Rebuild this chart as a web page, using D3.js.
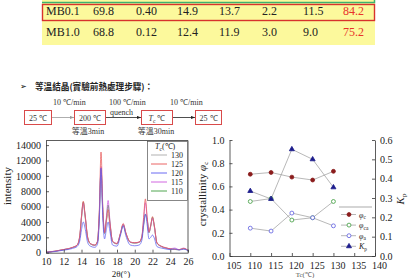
<!DOCTYPE html>
<html>
<head>
<meta charset="utf-8">
<script src="https://cdn.jsdelivr.net/npm/d3@7"></script>
<style>
body{margin:0;background:#fff;}
svg{display:block;font-family:"Liberation Serif","Times New Roman",serif;}
.axis path,.axis line{stroke:#333;stroke-width:0.8;}
.axis text{font-family:"Liberation Serif",serif;font-size:10px;fill:#222;}
</style>
</head>
<body>
<svg id="chart" width="412" height="278"></svg>
<script>
// table rows (top of the page)
var tableRows = [
  ["MB0.1", "69.8", "0.40", "14.9", "13.7", "2.2", "11.5", "84.2"],
  ["MB1.0", "68.8", "0.12", "12.4", "11.9", "3.0", "9.0", "75.2"]
];

// heat treatment steps
var steps = ["25 ℃", "200 ℃", "Tc ℃", "25 ℃"];
var rates = ["10 ℃/min", "100 ℃/min", "10 ℃/min"];
var holds = ["等溫3min", "等溫30min"];

// XRD patterns, one per Tc
var tcLabels = ["130", "125", "120", "115", "110"];
var twoTheta = [10, 11, 12, 12.5, 13, 13.5, 13.8, 14.0, 14.2, 14.4, 14.7, 15.0, 15.5, 15.8, 16.0, 16.2, 16.4, 16.6, 16.8, 17.0, 17.2, 17.5, 18.0, 18.4, 18.7, 19.0, 19.5, 20.0, 20.5, 20.8, 21.0, 21.2, 21.4, 21.6, 21.8, 22.0, 22.2, 22.5, 23.0, 23.5, 24.0, 24.5, 25.0, 25.5, 25.8, 26.0];
var int130 = [50,180,400,500,680,950,2000,4500,6300,4700,1900,1150,950,1400,4800,11000,5500,2500,4000,5000,3600,1400,1150,2500,3700,2500,1350,1250,1350,2000,3800,5000,4200,2600,3400,4500,3400,1250,800,600,480,420,380,500,420,280];
var int125 = [60,200,420,520,700,1000,2200,4800,6700,5000,2000,1200,1000,1500,5200,13100,6000,2600,4200,5600,3800,1500,1200,2600,3800,2600,1400,1300,1400,2100,4600,7000,4600,2700,3600,4700,3600,1300,850,650,500,450,400,550,450,300];
var int120 = [40,150,330,420,560,800,1500,3000,4000,3200,1300,850,700,1100,4000,11000,4500,1800,3000,4000,2800,1000,850,2300,3500,2200,1000,900,1000,1600,3500,5000,3600,1800,2000,2300,1900,800,600,480,400,500,350,450,380,250];
var int115 = [55,190,410,510,690,980,2100,4700,6500,4900,1950,1200,980,1450,5000,11200,5600,2600,4600,6800,4200,1500,1200,2550,3700,2550,1380,1280,1380,2050,4300,6500,4500,2650,3500,4500,3500,1280,820,620,520,600,400,600,470,300];
var int110 = [50,185,400,500,680,960,2050,4600,6600,4900,1900,1150,960,1400,4700,10800,5300,2500,4300,6200,4000,1450,1150,2500,3600,2500,1350,1250,1350,2000,3700,5000,4300,2600,3500,4600,3500,1250,800,600,480,430,380,520,430,280];
var yTicksL = [0, 2000, 4000, 6000, 8000, 10000, 12000, 14000];
var xTicksL = [10, 12, 14, 16, 18, 20, 22, 24, 26];

// crystallinity vs Tc
var tc = [110, 115, 120, 125, 130];
var phiC = [0.705, 0.72, 0.68, 0.655, 0.73];
var phiCa = [0.47, 0.495, 0.31, 0.33, 0.47];
var phiA = [0.24, 0.215, 0.37, 0.33, 0.26];
var kp = [0.336, 0.295, 0.552, 0.50, 0.355];
var xTicksR = [105, 110, 115, 120, 125, 130, 135, 140];

var svg = d3.select("#chart");

// ---------- table ----------
svg.append("rect").attr("x", 42).attr("y", 0).attr("width", 333).attr("height", 45).attr("fill", "#fcf99c");
svg.append("path").attr("d", "M42,2.5H374.5V-2").attr("fill", "none").attr("stroke", "#3db36e").attr("stroke-width", 1.5);
svg.append("rect").attr("x", 42.5).attr("y", 4.5).attr("width", 332).attr("height", 16)
  .attr("fill", "none").attr("stroke", "#d8322c").attr("stroke-width", 1.4);

var colX = [46, 93, 136, 177, 219, 262, 303, 343];
var rowY = [15, 35.5];
tableRows.forEach(function(r, i){
  svg.selectAll(".row" + i).data(r).enter().append("text")
    .attr("x", function(d, j){ return colX[j]; })
    .attr("y", rowY[i])
    .attr("font-size", 12)
    .attr("fill", function(d, j){ return j == 7 ? "#e8332a" : "#222"; })
    .text(function(d){ return d; });
});

// ---------- heading ----------
svg.append("text").attr("x", 20).attr("y", 89).attr("font-family", "DejaVu Sans").attr("font-size", 8).text("➢");
svg.append("text").attr("x", 35).attr("y", 89.5).attr("font-family", "Noto Sans CJK TC").attr("font-weight", "bold")
  .attr("font-size", 8.6).attr("fill", "#222").text("等溫結晶(實驗前熱處理步驟)：");

// ---------- flow diagram ----------
var boxX = [[24, 51], [74, 105], [141, 172], [195, 221]];
var boxY = 110, boxH = 14;
var defs = svg.append("defs");
["#999", "#222"].forEach(function(c, i){
  defs.append("marker").attr("id", "arr" + i).attr("viewBox", "0 0 10 10").attr("refX", 10).attr("refY", 5)
    .attr("markerWidth", 5).attr("markerHeight", 5).attr("orient", "auto")
    .append("path").attr("d", "M0,1L10,5L0,9z").attr("fill", c);
});
var box = svg.selectAll(".box").data(steps).enter().append("g");
box.append("rect")
  .attr("x", function(d, i){ return boxX[i][0] + 0.5; })
  .attr("y", boxY + 0.5)
  .attr("width", function(d, i){ return boxX[i][1] - boxX[i][0]; })
  .attr("height", boxH)
  .attr("fill", "#fff").attr("stroke", "#d94a4a").attr("stroke-width", 1);
box.append("text")
  .attr("x", function(d, i){ return (boxX[i][0] + boxX[i][1]) / 2 + 0.5; })
  .attr("y", boxY + 10.5)
  .attr("text-anchor", "middle").attr("font-size", 8).attr("fill", "#333")
  .each(function(d){
    var t = d3.select(this);
    if (d.indexOf("Tc") == 0) {
      t.append("tspan").attr("font-style", "italic").text("T");
      t.append("tspan").attr("font-size", 5.5).attr("dy", 2).text("c");
      t.append("tspan").attr("dy", -2).text(d.slice(2));
    } else {
      t.text(d);
    }
  });
svg.selectAll(".arrow").data(rates).enter().append("line")
  .attr("x1", function(d, i){ return boxX[i][1] + 1; })
  .attr("x2", function(d, i){ return boxX[i + 1][0]; })
  .attr("y1", boxY + 7.5).attr("y2", boxY + 7.5)
  .attr("stroke", function(d, i){ return i == 0 ? "#999" : "#222"; })
  .attr("stroke-width", 0.8)
  .attr("marker-end", function(d, i){ return i == 0 ? "url(#arr0)" : "url(#arr1)"; });
var rateX = [53, 109, 170];
svg.selectAll(".rate").data(rates).enter().append("text")
  .attr("x", function(d, i){ return rateX[i]; })
  .attr("y", 104.5).attr("font-size", 8).attr("fill", "#333").text(function(d){ return d; });
svg.append("text").attr("x", 110).attr("y", 114.5).attr("font-size", 8).attr("fill", "#333").text("quench");
var holdX = [88, 156];
svg.selectAll(".hold").data(holds).enter().append("text")
  .attr("x", function(d, i){ return holdX[i]; })
  .attr("y", 133.5).attr("text-anchor", "middle").attr("font-size", 8).attr("fill", "#333")
  .attr("font-family", "Liberation Serif, Noto Sans CJK TC")
  .text(function(d){ return d; });

// ---------- XRD chart ----------
var xL = d3.scaleLinear().domain([10, 26]).range([46, 188]);
var yL = d3.scaleLinear().domain([0, 14600]).range([252.7, 140.5]);

var seriesL = [int130, int125, int120, int115, int110];
var colorsL = ["#a8a8a8", "#e85454", "#5a5af0", "#cc55dd", "#3c9c3c"];
var drawOrder = [4, 0, 3, 1, 2];

var line = d3.line()
  .x(function(d){ return xL(d[0]); })
  .y(function(d){ return yL(d[1]); })
  .curve(d3.curveMonotoneX);

drawOrder.forEach(function(k){
  svg.append("path")
    .datum(twoTheta.map(function(t, i){ return [t, seriesL[k][i]]; }))
    .attr("d", line)
    .attr("fill", "none").attr("stroke", colorsL[k]).attr("stroke-width", 0.8).attr("opacity", 0.9);
});

svg.append("g").attr("class", "axis").attr("transform", "translate(0,252.7)")
  .call(d3.axisBottom(xL).tickValues(xTicksL).tickSizeInner(-3).tickSizeOuter(0).tickPadding(5));
svg.append("g").attr("class", "axis").attr("transform", "translate(46,0)")
  .call(d3.axisLeft(yL).tickValues(yTicksL).tickFormat(d3.format("d")).tickSizeInner(-3).tickSizeOuter(0).tickPadding(5));
svg.append("path").attr("d", "M46,140.5H188V252.7").attr("fill", "none").attr("stroke", "#333").attr("stroke-width", 0.8);

svg.append("text").attr("transform", "translate(11,186) rotate(-90)").attr("text-anchor", "middle")
  .attr("font-size", 11).attr("fill", "#222").text("intensity");
svg.append("text").attr("x", 121).attr("y", 277).attr("text-anchor", "middle").attr("font-size", 9).attr("fill", "#222")
  .text("2θ(°)");

// legend
var lg = svg.append("g");
lg.append("rect").attr("x", 147.5).attr("y", 141.5).attr("width", 40).attr("height", 59)
  .attr("fill", "#fff").attr("stroke", "#555").attr("stroke-width", 0.7);
var lt = lg.append("text").attr("x", 155).attr("y", 149).attr("font-size", 8).attr("fill", "#222");
lt.append("tspan").attr("font-style", "italic").text("T");
lt.append("tspan").attr("font-size", 5.5).attr("dy", 2).text("c");
lt.append("tspan").attr("dy", -2).text("(℃)");
var le = lg.selectAll(".le").data(tcLabels).enter().append("g")
  .attr("transform", function(d, i){ return "translate(0," + (155 + i * 9) + ")"; });
le.append("line").attr("x1", 151).attr("x2", 167)
  .attr("stroke", function(d, i){ return colorsL[i]; }).attr("stroke-width", 0.9);
le.append("text").attr("x", 171).attr("y", 3).attr("font-size", 8).attr("fill", "#222").text(function(d){ return d; });

// ---------- crystallinity chart ----------
var xR = d3.scaleLinear().domain([105, 140]).range([229.5, 375]);
var yR = d3.scaleLinear().domain([0, 1]).range([256, 140]);
var yK = d3.scaleLinear().domain([0, 0.6]).range([256, 140]);

var gx = svg.append("g").attr("class", "axis").attr("transform", "translate(0,256)")
  .call(d3.axisBottom(xR).tickValues(xTicksR).tickSizeInner(-3).tickSizeOuter(0).tickPadding(6));
gx.selectAll("text").attr("dx", 4);
svg.append("g").attr("class", "axis").attr("transform", "translate(229.5,0)")
  .call(d3.axisLeft(yR).tickValues([0, 0.2, 0.4, 0.6, 0.8, 1.0]).tickFormat(d3.format(".1f")).tickSizeInner(-3).tickSizeOuter(0).tickPadding(5));
svg.append("g").attr("class", "axis").attr("transform", "translate(375,0)")
  .call(d3.axisRight(yK).tickValues([0, 0.1, 0.2, 0.3, 0.4, 0.5, 0.6]).tickFormat(d3.format(".1f")).tickSizeInner(-3).tickSizeOuter(0).tickPadding(5));

var yl = svg.append("text").attr("transform", "translate(206,194) rotate(-90)").attr("text-anchor", "middle")
  .attr("font-size", 11).attr("fill", "#222");
yl.append("tspan").text("crystallinity ");
yl.append("tspan").attr("font-style", "italic").text("φ");
yl.append("tspan").attr("font-size", 7).attr("dy", 2).text("c");
var kl = svg.append("text").attr("transform", "translate(404,199) rotate(-90)").attr("text-anchor", "middle")
  .attr("font-size", 11).attr("fill", "#222");
kl.append("tspan").attr("font-style", "italic").text("K");
kl.append("tspan").attr("font-size", 7).attr("dy", 2).text("p");
svg.append("text").attr("x", 305).attr("y", 277).attr("text-anchor", "middle").attr("font-size", 7).attr("fill", "#555")
  .text("Tc(℃)");

var seriesR = [
  {name: "c", vals: phiC, y: yR, color: "#8a1c1c", fill: "#8a1c1c", shape: "circle"},
  {name: "ca", vals: phiCa, y: yR, color: "#3a9a3a", fill: "#fff", shape: "circle"},
  {name: "a", vals: phiA, y: yR, color: "#5a5ae0", fill: "#fff", shape: "circle"},
  {name: "p", vals: kp, y: yK, color: "#1c1c8c", fill: "#1c1c8c", shape: "triangle"}
];
var lineR = d3.line();
seriesR.forEach(function(s){
  svg.append("path")
    .attr("d", lineR(tc.map(function(t, i){ return [xR(t), s.y(s.vals[i])]; })))
    .attr("fill", "none").attr("stroke", "#9a9a9a").attr("stroke-width", 0.7);
});
var sym = {
  circle: d3.symbol().type(d3.symbolCircle).size(12),
  triangle: d3.symbol().type(d3.symbolTriangle).size(11)
};
seriesR.forEach(function(s){
  svg.selectAll(null).data(s.vals).enter().append("path")
    .attr("d", sym[s.shape])
    .attr("transform", function(d, i){ return "translate(" + xR(tc[i]) + "," + s.y(d) + ")"; })
    .attr("fill", s.fill).attr("stroke", s.color).attr("stroke-width", 0.8);
});

// legend
svg.append("line").attr("x1", 339).attr("x2", 372).attr("y1", 207).attr("y2", 207).attr("stroke", "#888").attr("stroke-width", 0.7);
var rl = svg.selectAll(".rl").data(seriesR).enter().append("g")
  .attr("transform", function(d, i){ return "translate(0," + (214.5 + i * 10.6) + ")"; });
rl.append("line").attr("x1", 341).attr("x2", 356).attr("stroke", "#9a9a9a").attr("stroke-width", 0.7);
rl.append("path").attr("d", function(d){ return sym[d.shape](); })
  .attr("transform", "translate(349,0)")
  .attr("fill", function(d){ return d.fill; }).attr("stroke", function(d){ return d.color; }).attr("stroke-width", 0.8);
var rlt = rl.append("text").attr("x", 359).attr("y", 3).attr("font-size", 8).attr("fill", "#222");
rlt.append("tspan").attr("font-style", "italic").text(function(d){ return d.name == "p" ? "K" : "φ"; });
rlt.append("tspan").attr("font-size", 5.5).attr("dy", 1.5).text(function(d){ return d.name; });
</script>
</body>
</html>
